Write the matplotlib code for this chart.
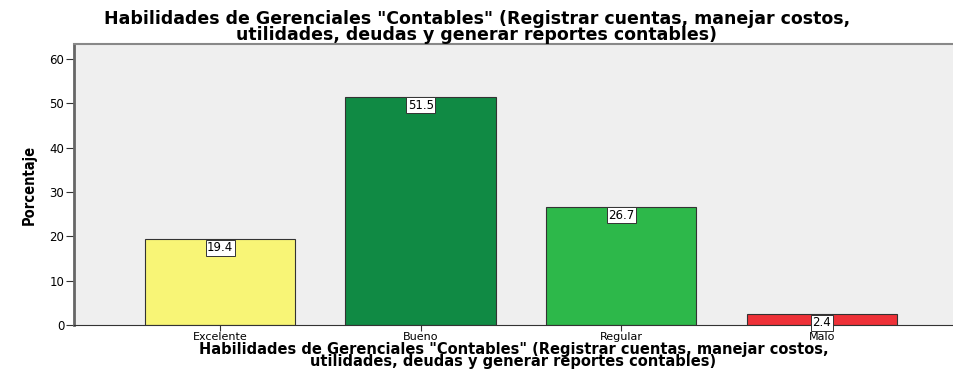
import numpy as np
import matplotlib.pyplot as plt

categorias = ['Excelente', 'Bueno', 'Regular', 'Malo']
porcentajes = [19.4, 51.5, 26.7, 2.4]
colores = ['#F8F576', '#108A44', '#2DB84A', '#EE3138']
titulo = 'Habilidades de Gerenciales "Contables" (Registrar cuentas, manejar costos,\nutilidades, deudas y generar reportes contables)'

plt.rcParams['font.family'] = ['DejaVu Sans']

fig = plt.figure(figsize=(9.54, 3.70), dpi=100)
ax = fig.add_axes([0.0776, 0.1216, 0.9214, 0.7594])
ax.set_facecolor('#EFEFEF')

x = np.arange(len(categorias))
ax.bar(x, porcentajes, width=0.75, color=colores, edgecolor='#333333', linewidth=0.8, zorder=2)

for xi, v in zip(x, porcentajes):
    ax.annotate(f'{v:.1f}', (xi, v), xytext=(0, -1.5), textcoords='offset points',
                ha='center', va='top', fontsize=8.5, zorder=3,
                bbox=dict(boxstyle='square,pad=0.12', fc='white', ec='#333333', lw=0.7))

ax.set_xlim(-0.728, 3.654)
ax.set_ylim(0, 63.4)
ax.set_yticks([0, 10, 20, 30, 40, 50, 60])
ax.set_xticks(x)
ax.set_xticklabels(categorias, fontsize=8)
ax.tick_params(axis='y', labelsize=8.5, length=6, width=0.8, color='#333333', pad=1)
ax.tick_params(axis='x', length=4, width=0.8, color='#333333', pad=1)

ax.spines['right'].set_visible(False)
ax.spines['left'].set_color('#666666')
ax.spines['left'].set_linewidth(2)
ax.spines['top'].set_color('#888888')
ax.spines['top'].set_linewidth(1.5)
ax.spines['bottom'].set_color('#333333')
ax.spines['bottom'].set_linewidth(0.8)

ax.set_ylabel('Porcentaje', fontsize=10.5, fontweight='bold', fontstretch='condensed', labelpad=9)

# etiqueta del eje x colocada a mano para que no se corte abajo
pos = ax.get_position()
fig.text((pos.x0 + pos.x1) / 2, 0.004, titulo, ha='center', va='bottom', fontsize=10.5,
         fontweight='bold', linespacing=0.74, multialignment='center')
fig.suptitle(titulo, fontsize=12.5, fontweight='bold', linespacing=0.82, x=0.5, y=0.972, va='top')

plt.savefig('out.png', dpi=100)
